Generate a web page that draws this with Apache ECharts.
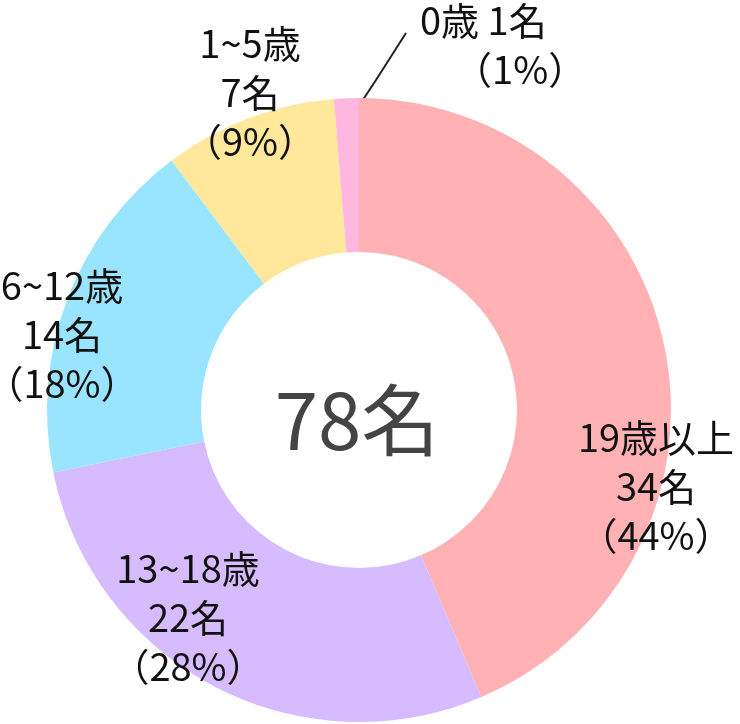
<!DOCTYPE html>
<html>
<head>
<meta charset="utf-8">
<script src="https://cdn.jsdelivr.net/npm/echarts@6/dist/echarts.min.js"></script>
<style>
  html, body { margin: 0; padding: 0; background: #fff; }
  #chart { width: 740px; height: 724px; }
</style>
</head>
<body>
<div id="chart"></div>
<script>
// 年齢別の人数
var categories = ['19歳以上', '13~18歳', '6~12歳', '1~5歳', '0歳'];
var counts = [34, 22, 14, 7, 1];
var colors = ['#FFB1B4', '#D7BBFF', '#99E5FF', '#FFE89B', '#FFB7DF'];

var total = counts.reduce(function (a, b) { return a + b; }, 0);

// ラベルの位置
var labelPos = [[656, 487], [188, 618], [62, 335], [250, 93], [420, 45]];

var myChart = echarts.init(document.getElementById('chart'));

var pieData = counts.map(function (v, i) {
  var item = { name: categories[i], value: v, itemStyle: { color: colors[i] } };
  if (i === 4) {
    item.label = { position: 'outside' };
    item.labelLine = { show: true };
  }
  return item;
});

myChart.setOption({
  animation: false,
  graphic: [{
    type: 'text',
    x: 357,
    y: 420,
    style: {
      text: total + '名',
      fill: '#444',
      font: '78px "Noto Sans CJK JP"',
      textAlign: 'center',
      textVerticalAlign: 'middle'
    },
    z: 10
  }],
  series: [{
    type: 'pie',
    center: [359, 410],
    radius: [158, 312],
    startAngle: 90,
    percentPrecision: 0,
    data: pieData,
    label: {
      show: true,
      position: 'inside',
      color: '#111',
      fontFamily: 'Noto Sans CJK JP',
      fontSize: 38,
      lineHeight: 49,
      width: 300,
      overflow: 'none',
      formatter: function (p) {
        if (p.dataIndex === 4) {
          return p.name + ' ' + p.value + '名\n    （' + p.percent + '%）';
        }
        return p.name + '\n' + p.value + '名\n（' + p.percent + '%）';
      }
    },
    labelLine: {
      show: false,
      lineStyle: { color: '#222', width: 2 }
    },
    labelLayout: function (params) {
      var pos = labelPos[params.dataIndex];
      var out = {
        x: pos[0],
        y: pos[1],
        align: params.dataIndex === 4 ? 'left' : 'center',
        verticalAlign: 'middle'
      };
      if (params.dataIndex === 4) {
        out.labelLinePoints = [[345, 127], [376, 80], [406, 33]];
      }
      return out;
    },
    emphasis: { disabled: true }
  }]
});

window.onresize = function () {
  myChart.resize();
};
</script>
</body>
</html>
